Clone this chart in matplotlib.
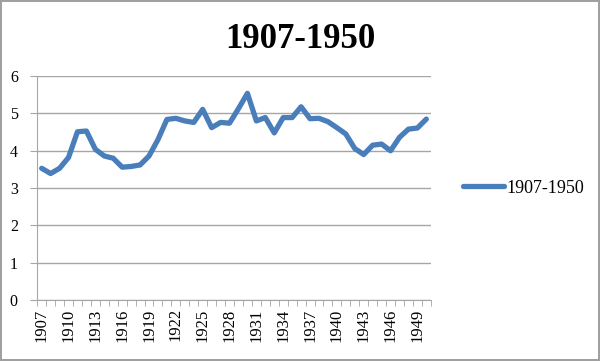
import numpy as np
import matplotlib.pyplot as plt

# ── Datos ─────────────────────────────────────────────
years = list(range(1907, 1951))
values = [3.53, 3.39, 3.53, 3.82, 4.51, 4.53, 4.04, 3.86, 3.80, 3.56,
          3.58, 3.62, 3.86, 4.30, 4.84, 4.87, 4.80, 4.76, 5.11, 4.62,
          4.76, 4.74, 5.13, 5.54, 4.80, 4.89, 4.48, 4.89, 4.89, 5.18,
          4.86, 4.87, 4.78, 4.62, 4.45, 4.06, 3.90, 4.15, 4.18, 4.00,
          4.36, 4.58, 4.61, 4.85]
series_name = '1907-1950'
yticks = [0, 1, 2, 3, 4, 5, 6]

serif = 'Liberation Serif'
line_color = '#4a7ebb'
grid_color = '#a6a6a6'

fig = plt.figure(figsize=(6, 3.61), dpi=100)
fig.patch.set_facecolor('white')
fig.patch.set_edgecolor('#a0a0a0')
fig.patch.set_linewidth(1.5)

ax = fig.add_axes([0.062, 0.169, 0.656, 0.62])
x = np.arange(len(years))
ax.plot(x, values, color=line_color, lw=3.8, solid_capstyle='round',
        solid_joinstyle='round', label=series_name)

ax.set_xlim(-0.5, len(years) - 0.5)
ax.set_ylim(0, 6)
ax.set_yticks(yticks)
ax.set_yticklabels([str(v) for v in yticks], fontfamily=serif, fontsize=11.5)
ax.yaxis.grid(True, color=grid_color, lw=1)
ax.set_axisbelow(True)

# ticks x: etiquetas cada 3 años, marcas en cada límite de categoría
lab_idx = x[::3]
ax.set_xticks(lab_idx)
ax.set_xticklabels([str(years[i]) for i in lab_idx], rotation=90,
                   fontfamily=serif, fontsize=12)
ax.set_xticks(np.arange(-0.5, len(years)), minor=True)
ax.tick_params(axis='x', which='major', length=0, pad=6)
ax.tick_params(axis='x', which='minor', length=4, color=grid_color)
ax.tick_params(axis='y', length=5, color=grid_color, pad=9)

for s in ['top', 'right']:
    ax.spines[s].set_visible(False)
for s in ['left', 'bottom']:
    ax.spines[s].set_color(grid_color)

fig.suptitle(series_name, x=0.5, y=0.935, fontfamily=serif,
             fontweight='bold', fontsize=25)

leg = ax.legend(loc='center left', bbox_to_anchor=(1.04, 0.5), frameon=False,
                prop={'family': serif, 'size': 13}, handlelength=2.3,
                handletextpad=0.1)

plt.savefig('out.png', dpi=100, facecolor='white', edgecolor='#a0a0a0')
